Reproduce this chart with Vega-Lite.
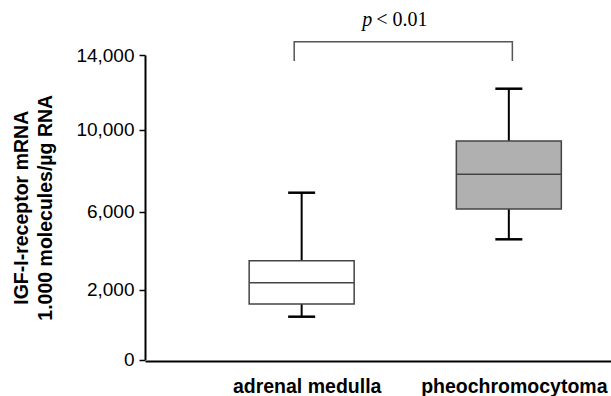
{
  "$schema": "https://vega.github.io/schema/vega-lite/v6.json",
  "width": 466,
  "height": 305,
  "autosize": {"type": "none"},
  "padding": {"left": 145, "top": 55, "right": 0, "bottom": 36},
  "background": "white",
  "config": {
    "view": {"stroke": null},
    "font": "Liberation Sans"
  },
  "datasets": {
    "boxes": [
      {"group": "adrenal medulla", "pos": 1, "lower": 1223, "q1": 1586, "median": 2350, "q3": 3477, "upper": 6917, "fill": "white"},
      {"group": "pheochromocytoma", "pos": 2, "lower": 4574, "q1": 6122, "median": 7815, "q3": 9439, "upper": 12190, "fill": "grey"}
    ],
    "bracket": [
      {"order": 1, "bx": 0.964, "by": 13678},
      {"order": 2, "bx": 0.964, "by": 14714},
      {"order": 3, "bx": 2.017, "by": 14714},
      {"order": 4, "bx": 2.017, "by": 13678}
    ],
    "ptext": [
      {"tx": 1.35, "ty": 15880, "p": "p", "rest": "< 0.01"}
    ]
  },
  "layer": [
    {
      "data": {"name": "boxes"},
      "mark": {"type": "rule", "color": "black", "strokeWidth": 2},
      "encoding": {
        "x": {
          "field": "pos", "type": "quantitative",
          "scale": {"domain": [0.268, 2.469], "nice": false, "zero": false},
          "axis": {
            "values": [1, 2],
            "labelExpr": "datum.value == 1 ? 'adrenal medulla' : 'pheochromocytoma'",
            "title": null,
            "ticks": false,
            "grid": false,
            "labelFontSize": 19.5,
            "labelFontWeight": "bold",
            "labelColor": "black",
            "labelPadding": 16,
            "labelOffset": 5,
            "labelLimit": 400,
            "labelFlush": false,
            "labelOverlap": false,
            "domainColor": "black",
            "domainWidth": 2,
            "offset": 1
          }
        },
        "y": {
          "field": "lower", "type": "quantitative",
          "scale": {
            "domain": [0, 2000, 6000, 10000, 14000],
            "range": [304.5, 234.5, 156.5, 74.5, 0],
            "nice": false, "zero": false
          },
          "axis": {
            "values": [0, 2000, 6000, 10000, 14000],
            "format": ",.0f",
            "grid": false,
            "title": ["IGF-I-receptor mRNA", "1.000 molecules/µg RNA"],
            "titleFontSize": 19.5,
            "titleFontWeight": "bold",
            "titleColor": "black",
            "titleLineHeight": 24,
            "titlePadding": 20,
            "labelFontSize": 19,
            "labelColor": "black",
            "labelPadding": 5,
            "tickSize": 6,
            "tickWidth": 1.5,
            "tickColor": "black",
            "domainColor": "black",
            "domainWidth": 2
          }
        },
        "y2": {"field": "upper"}
      }
    },
    {
      "data": {"name": "boxes"},
      "mark": {"type": "bar", "width": 105, "stroke": "#444444", "strokeWidth": 1.5},
      "encoding": {
        "x": {"field": "pos", "type": "quantitative"},
        "y": {"field": "q1", "type": "quantitative"},
        "y2": {"field": "q3"},
        "fill": {"field": "fill", "type": "nominal", "scale": {"domain": ["white", "grey"], "range": ["#ffffff", "#b0b0b0"]}, "legend": null}
      }
    },
    {
      "data": {"name": "boxes"},
      "mark": {"type": "tick", "orient": "horizontal", "size": 105, "thickness": 1.5, "color": "#444444", "opacity": 1},
      "encoding": {
        "x": {"field": "pos", "type": "quantitative"},
        "y": {"field": "median", "type": "quantitative"}
      }
    },
    {
      "data": {"name": "boxes"},
      "mark": {"type": "tick", "orient": "horizontal", "size": 27, "thickness": 2.5, "color": "black", "opacity": 1},
      "encoding": {
        "x": {"field": "pos", "type": "quantitative"},
        "y": {"field": "upper", "type": "quantitative"}
      }
    },
    {
      "data": {"name": "boxes"},
      "mark": {"type": "tick", "orient": "horizontal", "size": 27, "thickness": 2.5, "color": "black", "opacity": 1},
      "encoding": {
        "x": {"field": "pos", "type": "quantitative"},
        "y": {"field": "lower", "type": "quantitative"}
      }
    },
    {
      "data": {"name": "bracket"},
      "mark": {"type": "line", "color": "#555555", "strokeWidth": 1.5},
      "encoding": {
        "x": {"field": "bx", "type": "quantitative"},
        "y": {"field": "by", "type": "quantitative"},
        "order": {"field": "order", "type": "quantitative"}
      }
    },
    {
      "data": {"name": "ptext"},
      "mark": {"type": "text", "font": "Liberation Serif", "fontStyle": "italic", "fontSize": 20, "align": "right", "baseline": "middle", "dx": -2, "color": "black"},
      "encoding": {
        "x": {"field": "tx", "type": "quantitative"},
        "y": {"field": "ty", "type": "quantitative"},
        "text": {"field": "p"}
      }
    },
    {
      "data": {"name": "ptext"},
      "mark": {"type": "text", "font": "Liberation Serif", "fontSize": 20, "align": "left", "baseline": "middle", "dx": 2, "color": "black"},
      "encoding": {
        "x": {"field": "tx", "type": "quantitative"},
        "y": {"field": "ty", "type": "quantitative"},
        "text": {"field": "rest"}
      }
    }
  ]
}
